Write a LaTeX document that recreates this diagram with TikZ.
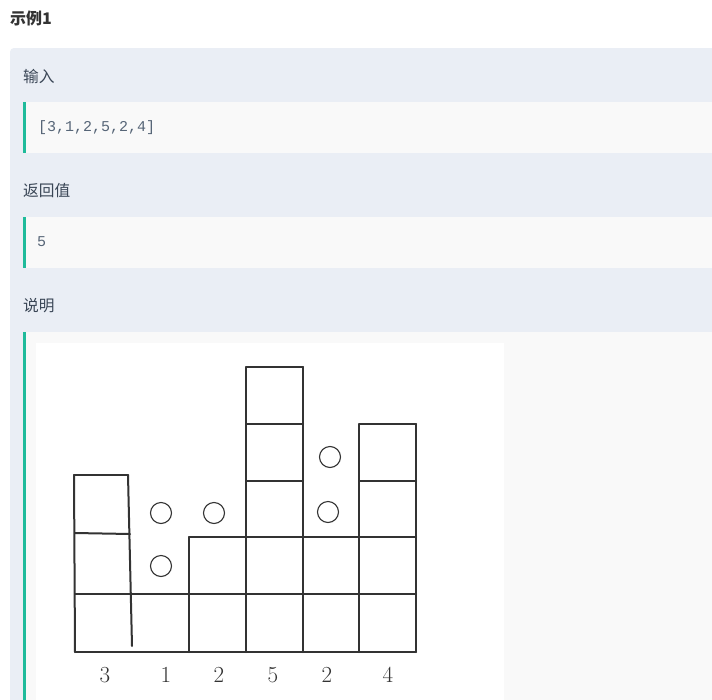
\documentclass[tikz,border=0pt]{standalone}
\usepackage{fontspec}
\newfontfamily\cjk{Noto Sans CJK SC}
\newfontfamily\codefont{Liberation Mono}
\definecolor{panel}{HTML}{EAEEF5}
\definecolor{codebg}{HTML}{F9F9F9}
\definecolor{teal}{HTML}{1FBB9B}
\definecolor{ink}{HTML}{3A4656}
\definecolor{codeink}{HTML}{566577}
\definecolor{gridink}{HTML}{333333}
\begin{document}
\begin{tikzpicture}[x=1pt, y=-1pt]
        \tikzstyle{heading}=[anchor=west, inner sep=0pt, text=ink, font=\cjk\fontsize{15.7}{18}\selectfont]
        \tikzstyle{code}=[anchor=west, inner sep=0pt, text=codeink, font=\codefont\fontsize{15}{18}\selectfont]
        \tikzstyle{wall}=[draw=gridink, line width=2pt, line cap=round]
        \tikzstyle{drop}=[draw=gridink, line width=1.1pt, shape=circle, minimum size=21pt, inner sep=0pt]
        \tikzstyle{height}=[inner sep=0pt, text=gridink, font=\fontsize{23}{24}\selectfont]

        \useasboundingbox (0,0) rectangle (712,699);
        \clip (0,0) rectangle (712,699);
        \fill[white] (0,0) rectangle (712,699);

        % page panel and code boxes
        \fill[panel, rounded corners=4pt] (10,48) rectangle (730,720);
        \fill[codebg] (23,102) rectangle (730,153);
        \fill[codebg] (23,217) rectangle (730,268);
        \fill[codebg] (23,332) rectangle (730,720);
        \fill[teal] (23,102) rectangle (26,153);
        \fill[teal] (23,217) rectangle (26,268);
        \fill[teal] (23,332) rectangle (26,720);
        \fill[white] (36,343) rectangle (504,720);

        \node[heading, font=\cjk\bfseries\fontsize{16}{18}\selectfont, text=black!80](title) at (10,18){示例1};
        \node[heading](input) at (23,77){输入};
        \node[code](array) at (38,128){[3,1,2,5,2,4]};
        \node[heading](ret) at (23,191){返回值};
        \node[code](answer) at (37,242){5};
        \node[heading](note) at (23,306){说明};

        % first column, drawn a little askew
        \draw[wall] (74,475) -- (128,475);
        \draw[wall] (75,533) -- (130,534);
        \draw[wall] (74,475) -- (75,652);
        \draw[wall] (128,475) -- (132,646);

        % remaining columns
        \draw[wall] (75,652) -- (416,652);
        \draw[wall] (75,594) -- (416,594);
        \draw[wall] (189,537) -- (416,537);
        \draw[wall] (246,481) -- (303,481);
        \draw[wall] (359,481) -- (416,481);
        \draw[wall] (246,424) -- (303,424);
        \draw[wall] (359,424) -- (416,424);
        \draw[wall] (246,367) -- (303,367);
        \draw[wall] (189,537) -- (189,652);
        \draw[wall] (246,367) -- (246,652);
        \draw[wall] (303,367) -- (303,652);
        \draw[wall] (359,424) -- (359,652);
        \draw[wall] (416,424) -- (416,652);

        % trapped water
        \node[drop](w1) at (161,513){};
        \node[drop](w2) at (161,566){};
        \node[drop](w3) at (214,513){};
        \node[drop](w4) at (330,457){};
        \node[drop](w5) at (328,512){};

        \node[height](h1) at (105,675){3};
        \node[height](h2) at (166,675){1};
        \node[height](h3) at (219,675){2};
        \node[height](h4) at (273,675){5};
        \node[height](h5) at (327,675){2};
        \node[height](h6) at (388,675){4};

        \end{tikzpicture}
\end{document}
